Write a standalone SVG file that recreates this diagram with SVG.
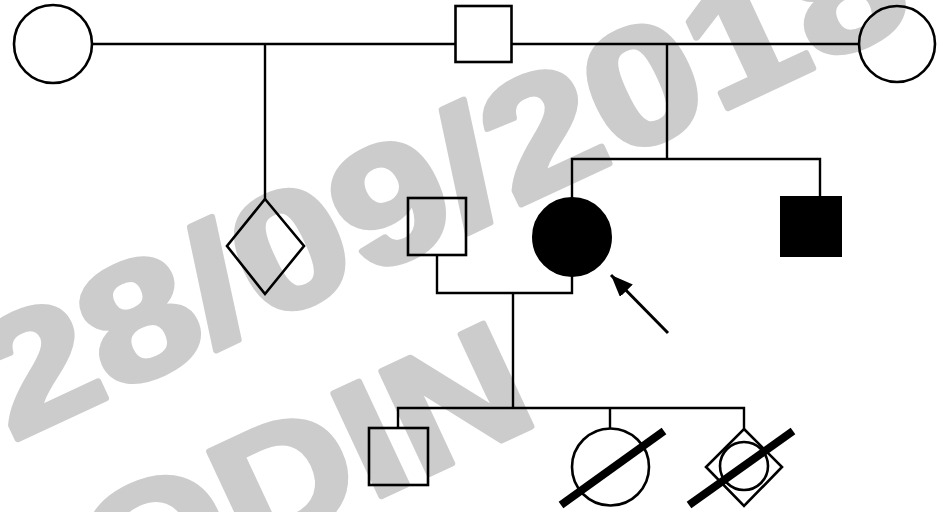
<svg xmlns="http://www.w3.org/2000/svg" width="943" height="512" viewBox="0 0 943 512">
<style>
.wm{font-family:"Liberation Sans",Arial,sans-serif;font-weight:bold;font-size:165px;fill:#cccccc;stroke:#cccccc;stroke-width:6;stroke-linejoin:round}
.n{fill:none;stroke:#000;stroke-width:2.6}
.f{fill:#000;stroke:#000;stroke-width:2}
.c{fill:none;stroke:#000;stroke-width:2.4}
.s{stroke:#000;stroke-width:8;stroke-linecap:butt}
</style>
<defs>
<marker id="ah2" viewBox="0 0 22 18" refX="22" refY="9" markerWidth="22" markerHeight="18" markerUnits="userSpaceOnUse" orient="auto">
<path d="M0,0 L22,9 L0,18 z" fill="#000"/>
</marker>
</defs>
<rect width="943" height="512" fill="#fff"/>
<g id="watermark">
<text class="wm" x="12" y="442" textLength="1000" lengthAdjust="spacingAndGlyphs" transform="rotate(-25 12 442)">28/09/2018</text>
<text class="wm" x="112" y="622" textLength="475" lengthAdjust="spacingAndGlyphs" transform="rotate(-25 112 622)">ODIN</text>
</g>
<g id="connectors" class="c">
<path d="M92,44 H455 M512,44 H859"/>
<path d="M265,44 V199"/>
<path d="M667,44 V159 M572,198 V159 H820 V197"/>
<path d="M437,255 V293 H572 V276"/>
<path d="M513,293 V408"/>
<path d="M398,428 V408 H744 V429 M610,408 V428"/>
<line x1="668" y1="333" x2="611" y2="275" stroke-width="3" marker-end="url(#ah2)"/>
</g>
<g id="I-1"><circle class="n" cx="53" cy="44" r="39"/></g>
<g id="I-2"><rect class="n" x="455.5" y="6" width="56" height="56"/></g>
<g id="I-3"><circle class="n" cx="897" cy="44" r="38"/></g>
<g id="II-1"><polygon class="n" points="265,199 304,246 265,294 227,246"/></g>
<g id="II-2"><rect class="n" x="408" y="198" width="58" height="57"/></g>
<g id="II-3"><circle class="f" cx="572" cy="237" r="39"/></g>
<g id="II-4"><rect class="f" x="781" y="197" width="60" height="59"/></g>
<g id="III-1"><rect class="n" x="369" y="428" width="59" height="57"/></g>
<g id="III-2"><circle class="n" cx="610.5" cy="467" r="38.5"/><line class="s" x1="561" y1="505" x2="664" y2="431"/></g>
<g id="III-3"><polygon class="n" points="744,429 782,467 744,506 706,467"/><circle class="n" cx="744" cy="466" r="24"/><line class="s" x1="689" y1="505" x2="793" y2="431"/></g>
</svg>
